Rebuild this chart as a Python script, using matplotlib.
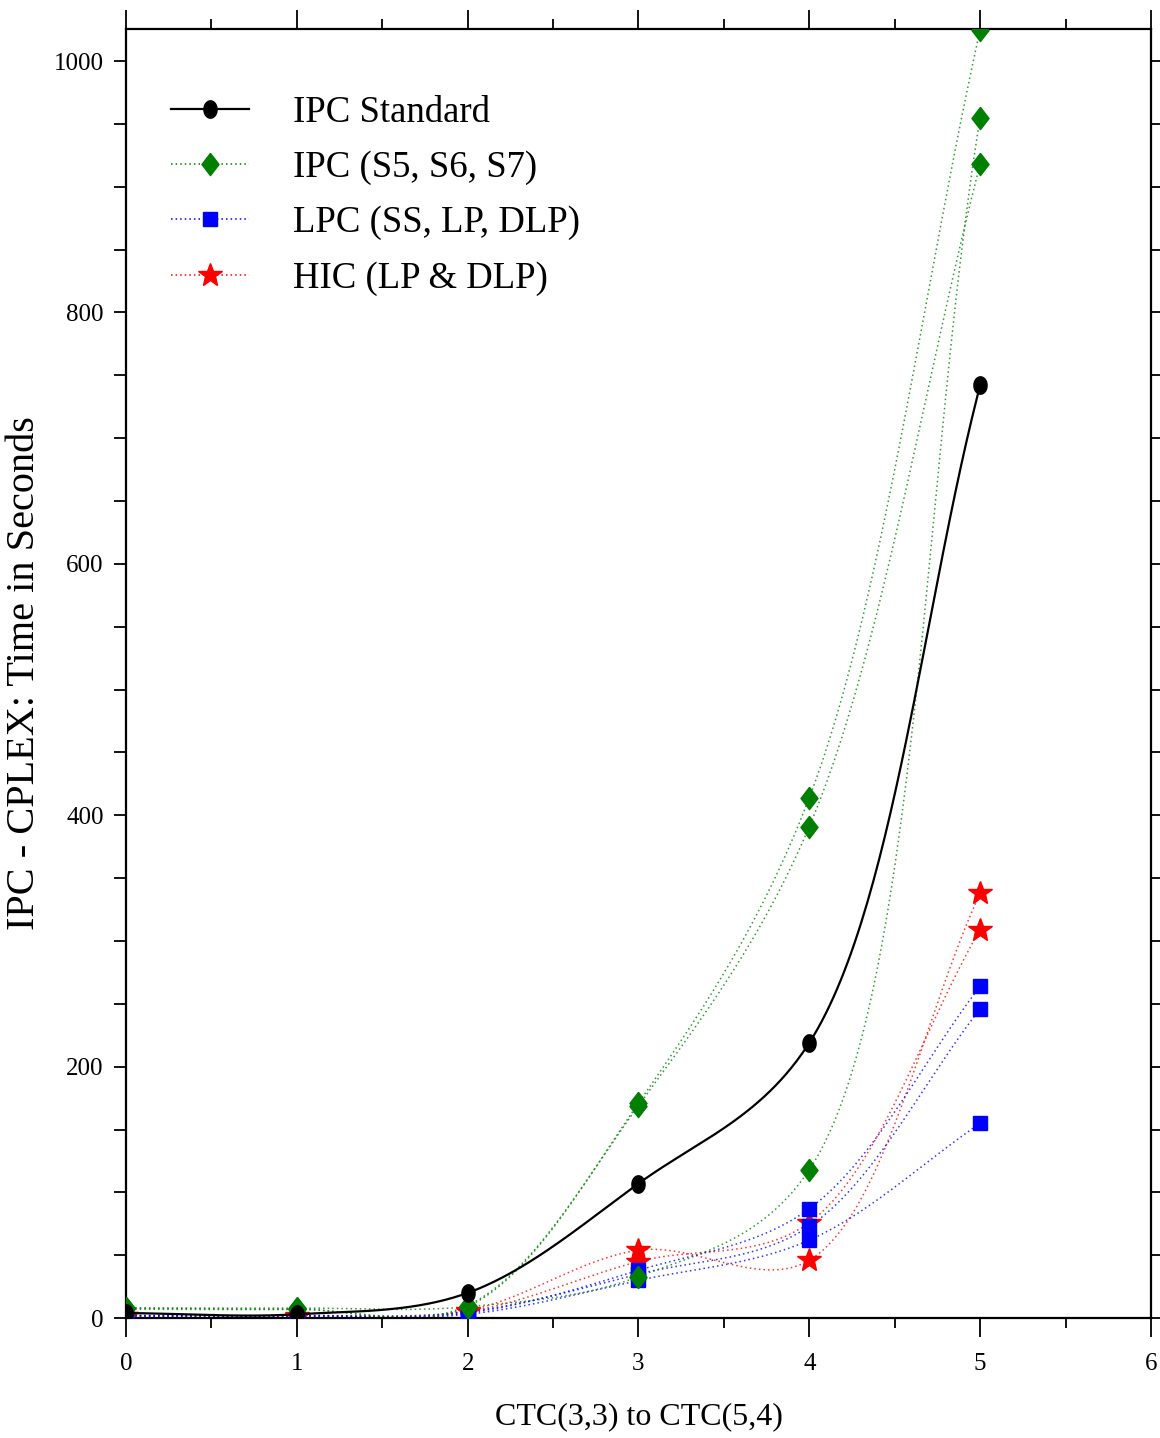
import numpy as np
import matplotlib
matplotlib.use("Agg")
import matplotlib.pyplot as plt
from matplotlib.lines import Line2D

plt.rcParams["font.family"] = ["Liberation Serif", "DejaVu Serif"]

x = [0, 1, 2, 3, 4, 5]

ipc_standard = [4, 3, 20, 107, 219, 742]

ipc_s5 = [8, 7, 9, 171, 414, 1025]
ipc_s6 = [7, 7, 10, 169, 391, 918]
ipc_s7 = [8, 8, 9, 33, 118, 955]

lpc_ss = [2, 2, 4, 38, 87, 264]
lpc_lp = [2, 2, 5, 35, 73, 246]
lpc_dlp = [1, 1, 3, 30, 62, 155]

hic_lp = [2, 2, 6, 54, 46, 338]
hic_dlp = [2, 1, 5, 45, 76, 309]

legend_labels = ["IPC Standard", "IPC (S5, S6, S7)",
                 "LPC (SS, LP, DLP)", "HIC (LP & DLP)"]

# pixel size of one data unit, used so the curve is smoothed on screen
SX, SY = 171.0, 1.257


def smooth(xs, ys, n=60, alpha=0.5):
    # centripetal Catmull-Rom curve through the points (screen space)
    P = np.column_stack([np.asarray(xs, float) * SX, np.asarray(ys, float) * SY])
    P = np.vstack([2 * P[0] - P[1], P, 2 * P[-1] - P[-2]])
    out = []
    for i in range(1, len(P) - 2):
        p0, p1, p2, p3 = P[i - 1], P[i], P[i + 1], P[i + 2]
        t0 = 0.0
        t1 = t0 + np.linalg.norm(p1 - p0) ** alpha
        t2 = t1 + np.linalg.norm(p2 - p1) ** alpha
        t3 = t2 + np.linalg.norm(p3 - p2) ** alpha
        t = np.linspace(t1, t2, n)[:, None]
        a1 = (t1 - t) / (t1 - t0) * p0 + (t - t0) / (t1 - t0) * p1
        a2 = (t2 - t) / (t2 - t1) * p1 + (t - t1) / (t2 - t1) * p2
        a3 = (t3 - t) / (t3 - t2) * p2 + (t - t2) / (t3 - t2) * p3
        b1 = (t2 - t) / (t2 - t0) * a1 + (t - t0) / (t2 - t0) * a2
        b2 = (t3 - t) / (t3 - t1) * a2 + (t - t1) / (t3 - t1) * a3
        c = (t2 - t) / (t2 - t1) * b1 + (t - t1) / (t2 - t1) * b2
        out.append(c)
    c = np.vstack(out)
    return c[:, 0] / SX, c[:, 1] / SY


# taller-than-wide markers like in the original
diamond = [(0, 1), (0.77, 0), (0, -1), (-0.77, 0), (0, 1)]
th = np.linspace(0, 2 * np.pi, 40)
ellipse = list(zip(0.76 * np.cos(th), np.sin(th)))

fig = plt.figure(figsize=(11.6, 14.38), dpi=100)
ax = fig.add_axes([0.1086, 0.0834, 0.8836, 0.8964])

dots = (0, (1, 2))
groups = [
    ([hic_lp, hic_dlp], "red", "*", 18),
    ([lpc_ss, lpc_lp, lpc_dlp], "blue", "s", 9.5),
    ([ipc_s5, ipc_s6, ipc_s7], "green", diamond, 16),
]
for series, col, mk, ms in groups:
    for ys in series:
        cx, cy = smooth(x, ys)
        ax.plot(cx, cy, color=col, ls=dots, lw=1.1, alpha=0.8)
    for ys in series:
        ax.plot(x, ys, ls="none", marker=mk, ms=ms, color=col,
                mec=col, zorder=4)

cx, cy = smooth(x, ipc_standard)
ax.plot(cx, cy, color="black", lw=1.6, zorder=5)
ax.plot(x, ipc_standard, ls="none", marker=ellipse, ms=12.5, color="black",
        zorder=6)

ax.set_xlim(0, 6)
ax.set_ylim(0, 1025.5)
ax.set_xticks(range(0, 7))
ax.set_xticks(np.arange(0.5, 6, 1), minor=True)
ax.set_yticks(range(0, 1001, 200))
ax.set_yticks(range(0, 1026, 50), minor=True)
ax.tick_params(axis="both", which="both", direction="out", top=True, right=True,
               width=1.3, labelsize=18)
ax.tick_params(axis="x", which="major", length=14, pad=11)
ax.tick_params(axis="x", which="minor", length=7)
ax.tick_params(axis="y", which="both", length=9, pad=7)
for sp in ax.spines.values():
    sp.set_linewidth(1.6)

ax.set_xlabel("CTC(3,3) to CTC(5,4)", fontsize=23, labelpad=20)
ax.set_ylabel("IPC - CPLEX: Time in Seconds", fontsize=29, va="center")
ax.yaxis.set_label_coords(-0.099, 0.5)

handles = [
    Line2D([], [], color="black", lw=1.6, marker=ellipse, ms=12.5),
    Line2D([], [], color="green", ls=dots, lw=1.1, marker=diamond, ms=16),
    Line2D([], [], color="blue", ls=dots, lw=1.1, marker="s", ms=9.5),
    Line2D([], [], color="red", ls=dots, lw=1.1, marker="*", ms=18),
]
ax.legend(handles, legend_labels, loc="upper left", frameon=False,
          fontsize=26.5, handlelength=2.1, handletextpad=1.2,
          labelspacing=0.56, bbox_to_anchor=(0.03, 0.96), borderaxespad=0)

fig.savefig("out.png", dpi=100)
